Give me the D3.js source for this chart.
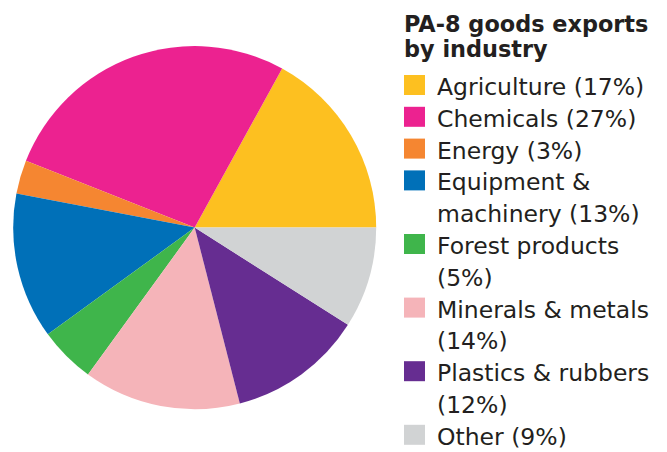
<!DOCTYPE html>
<html><head><meta charset="utf-8">
<script src="https://cdn.jsdelivr.net/npm/d3@7"></script>
<style>html,body{margin:0;padding:0;background:#fff;}svg{display:block;}</style>
</head><body>
<svg id="chart" width="667" height="452"></svg>
<script>
const title = ["PA-8 goods exports", "by industry"];
const categories = ["Agriculture","Chemicals","Energy","Equipment & machinery","Forest products","Minerals & metals","Plastics & rubbers","Other"];
const values = [17,27,3,13,5,14,12,9];
const colors = ["#FDC020","#EC2290","#F58631","#0070B8","#3FB54B","#F5B4B9","#662D91","#D1D3D4"];

const svg = d3.select("#chart");
const cx = 194.7, cy = 227.6, r = 181.5;
const data = categories.map((c,i)=>({cat:c, value:values[i], color:colors[i]}));
const pie = d3.pie().value(d=>d.value).sort(null).startAngle(Math.PI/2).endAngle(Math.PI/2 - 2*Math.PI);
const arc = d3.arc().innerRadius(0).outerRadius(r);
svg.append("g").attr("transform",`translate(${cx},${cy})`)
  .selectAll("path").data(pie(data)).join("path")
  .attr("d",arc).attr("fill",d=>d.data.color);

const textColor = "#231F20";
const tg = svg.append("text").attr("x",404).attr("font-family","'DejaVu Sans', sans-serif")
  .attr("font-weight",700).attr("font-size",22.4).attr("fill",textColor);
title.forEach((t,i)=>tg.append("tspan").attr("x",404).attr("y",31.5+25.2*i).text(t));

const lineH = 31.8;
const maxW = 232;
const font = "'DejaVu Sans', sans-serif";
const fs = 23.5;
const fw = 400;
const lg = svg.append("g");
let line = 0;
const measure = lg.append("text").attr("font-family",font).attr("font-weight",fw).attr("font-size",fs).attr("visibility","hidden");
function width(s){ measure.text(s); return measure.node().getComputedTextLength(); }
data.forEach(d=>{
  const label = `${d.cat} (${d.value}%)`;
  const words = label.split(" ");
  const lines = []; let cur = "";
  words.forEach(w=>{
    const test = cur ? cur+" "+w : w;
    if (cur && width(test) > maxW) { lines.push(cur); cur = w; } else cur = test;
  });
  lines.push(cur);
  const base = 95 + lineH*line;
  lg.append("rect").attr("x",404).attr("y",base-20).attr("width",21).attr("height",20).attr("fill",d.color);
  const t = lg.append("text").attr("font-family",font).attr("font-weight",fw)
    .attr("font-size",fs).attr("fill",textColor);
  lines.forEach((l,i)=>t.append("tspan").attr("x",437).attr("y",base+lineH*i).text(l));
  line += lines.length;
});
measure.remove();
</script>
</body></html>
